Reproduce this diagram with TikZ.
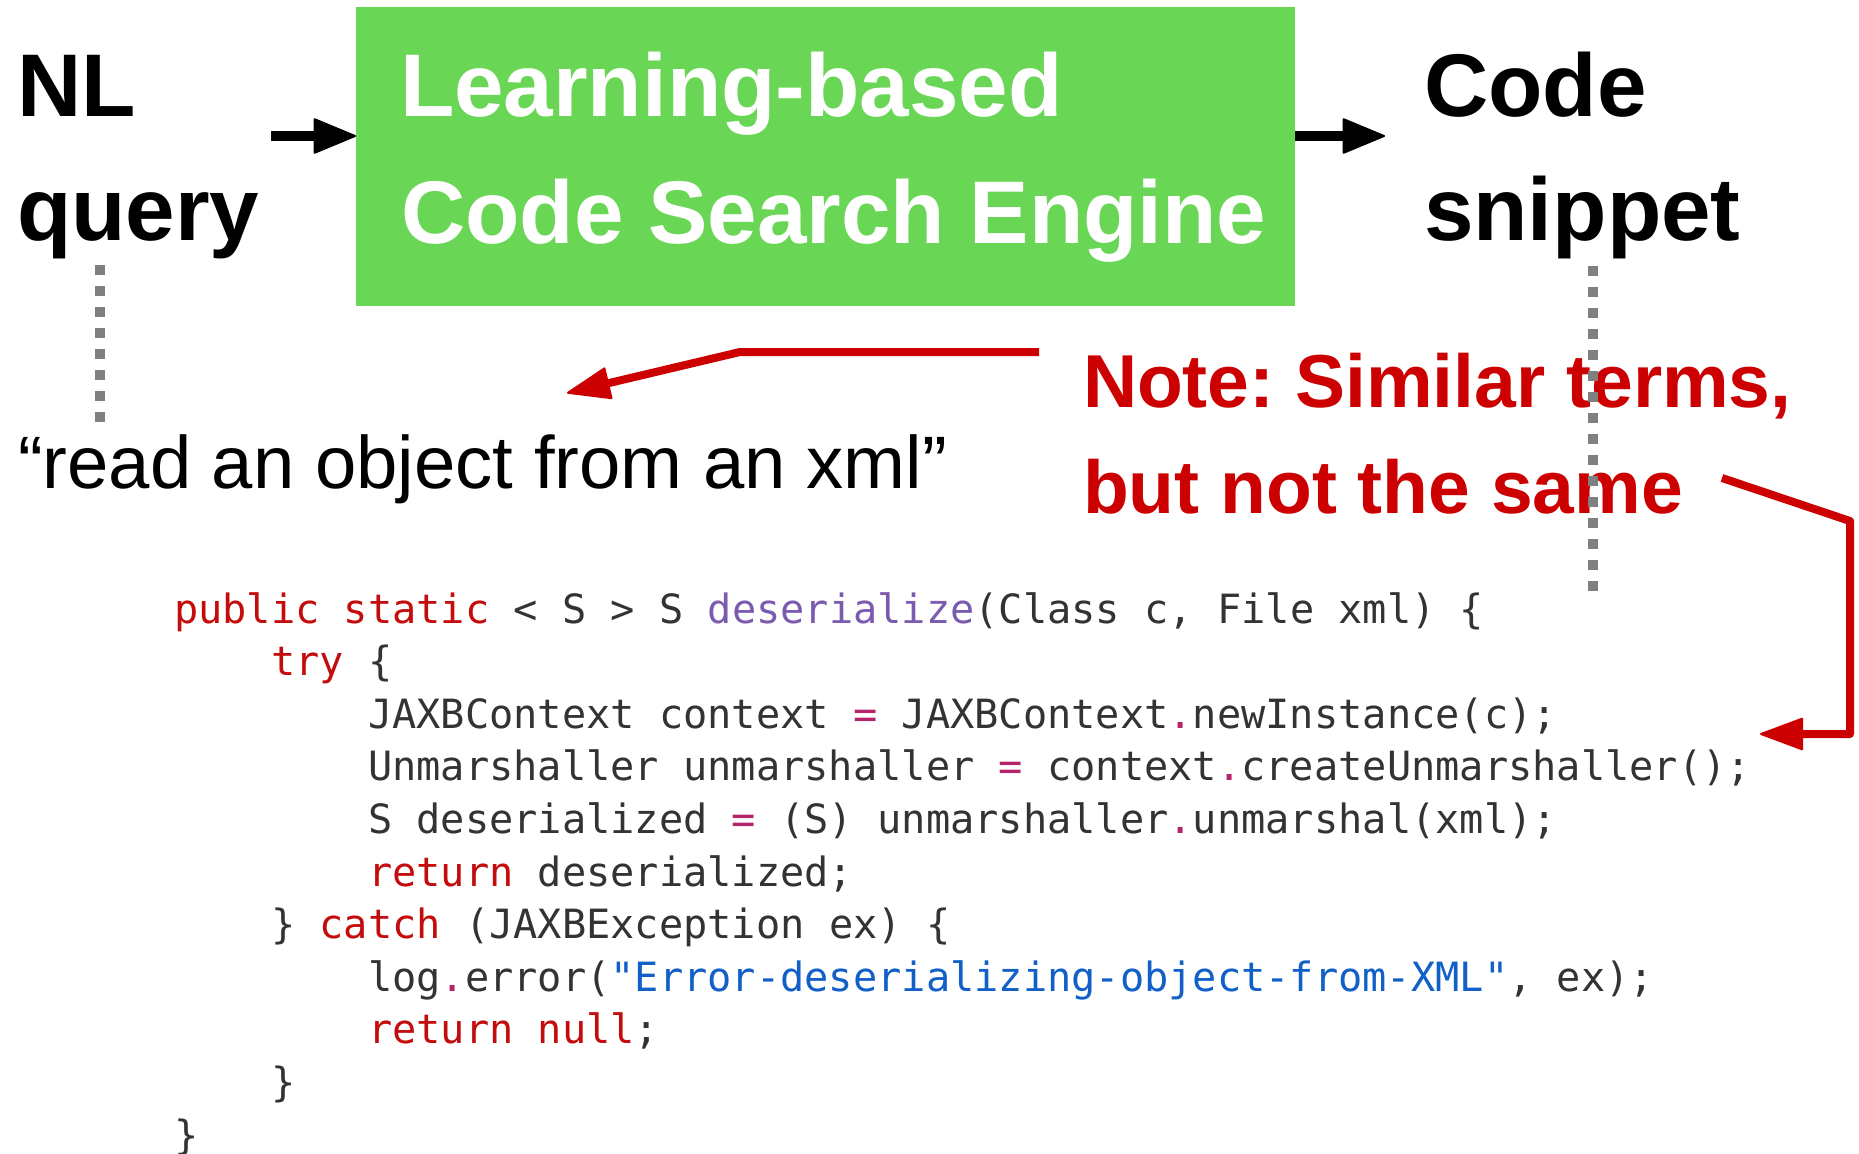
\documentclass[tikz,border=0pt]{standalone}
\usepackage{fontspec}
\setmainfont{Liberation Sans}
\newfontfamily\codefont{DejaVu Sans Mono}
\usetikzlibrary{arrows.meta}
\definecolor{boxgreen}{RGB}{106,214,85}
\definecolor{notered}{RGB}{204,0,0}
\definecolor{dotgray}{RGB}{128,128,128}
\definecolor{kwred}{RGB}{196,12,12}
\definecolor{fnpurple}{RGB}{123,91,175}
\definecolor{oppink}{RGB}{181,35,106}
\definecolor{strblue}{RGB}{17,96,200}
\definecolor{codegray}{RGB}{51,51,51}
\newcommand{\cKw}[1]{\textcolor{kwred}{#1}}
\newcommand{\cFn}[1]{\textcolor{fnpurple}{#1}}
\newcommand{\cOp}[1]{\textcolor{oppink}{#1}}
\newcommand{\cStr}[1]{\textcolor{strblue}{#1}}
\frenchspacing
\begin{document}
\begin{tikzpicture}[x=1pt,y=-1pt,
  lbl/.style={anchor=base west, inner sep=0pt, outer sep=0pt},
  bigtxt/.style={lbl, font=\fontsize{89}{100}\selectfont\bfseries},
  enginetxt/.style={bigtxt, text=white},
  notetxt/.style={lbl, text=notered, font=\fontsize{75}{90}\selectfont\bfseries},
  quotetxt/.style={lbl, font=\fontsize{74.3}{90}\selectfont},
  codeline/.style={lbl, text=codegray, font=\fontsize{40.3}{52.6}\selectfont\codefont},
  enginebox/.style={fill=boxgreen, inner sep=0pt, outer sep=0pt, minimum width=939pt, minimum height=299pt, anchor=north west},
  blkarrow/.style={line width=10pt, -{Triangle[length=44pt,width=36pt,round,line width=2pt]}},
  redarrow/.style={draw=notered, line width=8pt, line join=round, -{Triangle[length=45pt,width=33pt,round,line width=2pt]}},
  graydots/.style={draw=dotgray, line width=10pt, dash pattern=on 10pt off 11pt}
]
\useasboundingbox (0,0) rectangle (1859,1153);
\fill[white] (0,0) rectangle (1859,1153);

% top row
\node[bigtxt] (nl) at (17,117) {NL};
\node[bigtxt] (query) at (17,240) {query};
\node[enginebox] (engine) at (356,7) {};
\node[enginetxt] (eng1) at (400,117) {Learning-based};
\node[enginetxt] (eng2) at (401,243) {Code Search Engine};
\node[bigtxt] (code) at (1424,117) {Code};
\node[bigtxt] (snippet) at (1424,240) {snippet};

\coordinate (inL) at (271,136);
\coordinate (outR) at (1385,136);
\draw[blkarrow] (inL) -- (inL -| engine.west);
\draw[blkarrow] (engine.east |- outR) -- (outR);

% query text and note
\node[quotetxt] (nlq) at (18,488) {“read an object from an xml”};
\node[notetxt] (note1) at (1083,407) {Note: Similar terms,};
\node[notetxt] (note2) at (1083,513) {but not the same};

% code
\def\cw{24.25}
\node[codeline] (c1) at (174,623) {\cKw{public static} < S > S \cFn{deserialize}(Class c, File xml) \{};
\node[codeline] (c2) at (174+4*\cw,675.6) {\cKw{try} \{};
\node[codeline] (c3) at (174+8*\cw,728.2) {JAXBContext context \cOp{=} JAXBContext\cOp{.}newInstance(c);};
\node[codeline] (c4) at (174+8*\cw,780.8) {Unmarshaller unmarshaller \cOp{=} context\cOp{.}createUnmarshaller();};
\node[codeline] (c5) at (174+8*\cw,833.4) {S deserialized \cOp{=} (S) unmarshaller\cOp{.}unmarshal(xml);};
\node[codeline] (c6) at (174+8*\cw,886.0) {\cKw{return} deserialized;};
\node[codeline] (c7) at (174+4*\cw,938.6) {\} \cKw{catch} (JAXBException ex) \{};
\node[codeline] (c8) at (174+8*\cw,991.2) {log\cOp{.}error(\cStr{"Error-deserializing-object-from-XML"}, ex);};
\node[codeline] (c9) at (174+8*\cw,1043.8) {\cKw{return null};};
\node[codeline] (c10) at (174+4*\cw,1096.4) {\}};
\node[codeline] (c11) at (174,1149.0) {\}};

% red arrows
\coordinate (r1a) at (1039,352);
\coordinate (r1b) at (740,352);
\coordinate (r1c) at (567,393);
\draw[redarrow] (r1a) -- (r1b) -- (r1c);
\coordinate (r2a) at (1722,478);
\coordinate (r2b) at (1850,521);
\coordinate (r2c) at (1850,734);
\coordinate (r2d) at (1760,734);
\draw[redarrow] (r2a) -- (r2b) -- (r2c) -- (r2d);

% gray dotted guides
\coordinate (d1a) at (100,265);
\coordinate (d1b) at (100,424);
\coordinate (d2a) at (1593,266);
\coordinate (d2b) at (1593,595);
\draw[graydots] (d1a) -- (d1b);
\draw[graydots] (d2a) -- (d2b);
\end{tikzpicture}
\end{document}
